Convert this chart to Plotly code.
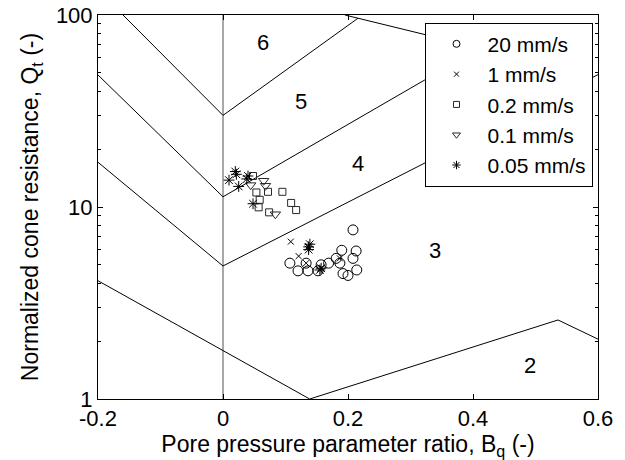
import math
import plotly.graph_objects as go

# ---- data ----
# Classification chart boundaries (Bq, Qt)
vert_x = [0.0, 0.0]
vert_q = [1, 100]
lineA_x = [-0.16, 0.0, 0.216]
lineA_q = [100, 30.0, 96.2]
lineTop_x = [0.195, 0.411]
lineTop_q = [100, 67.3]
lineB_x = [-0.2, 0.0, 0.411]
lineB_q = [48.7, 11.3, 67.3]
lineC_x = [-0.2, 0.0, 0.6]
lineC_q = [17.1, 4.93, 48.9]
lineD_x = [-0.2, 0.1387, 0.536, 0.6]
lineD_q = [4.13, 1.0, 2.58, 2.05]

zone_labels = ["6", "5", "4", "3", "2"]
zone_x = [0.0635, 0.1254, 0.216, 0.339, 0.491]
zone_q = [72.3, 35.3, 16.9, 5.97, 1.50]

series_names = ["20 mm/s", "1 mm/s", "0.2 mm/s", "0.1 mm/s", "0.05 mm/s"]

s20_x = [0.208, 0.107, 0.120, 0.136, 0.133, 0.152, 0.157, 0.169, 0.181, 0.190,
         0.213, 0.208, 0.187, 0.192, 0.200, 0.214]
s20_q = [7.6, 5.1, 4.65, 4.65, 5.1, 4.65, 5.0, 5.1, 5.4, 5.95,
         5.9, 5.4, 5.1, 4.5, 4.4, 4.7]
s1_x = [0.1085, 0.121, 0.133, 0.136, 0.157, 0.187]
s1_q = [6.6, 5.55, 5.1, 6.2, 4.8, 5.4]
s02_x = [0.048, 0.0534, 0.072, 0.095, 0.0587, 0.057, 0.0738, 0.109, 0.117]
s02_q = [14.5, 11.9, 12.0, 12.0, 10.9, 9.96, 9.38, 10.5, 9.64]
s01_x = [0.0443, 0.065, 0.068, 0.0838]
s01_q = [13.0, 13.7, 12.9, 9.17]
s005_x = [0.0197, 0.0214, 0.0096, 0.0251, 0.040, 0.038, 0.048, 0.137, 0.139, 0.137, 0.157, 0.155]
s005_q = [15.3, 14.8, 13.8, 12.8, 14.5, 14.0, 10.4, 6.2, 6.4, 6.0, 4.8, 4.7]

x_ticks = [-0.2, 0, 0.2, 0.4, 0.6]
x_ticktext = ["-0.2", "0", "0.2", "0.4", "0.6"]
y_ticks = [1, 10, 100]
y_ticktext = ["1", "10", "100"]
y_minor = [2, 3, 4, 5, 6, 7, 8, 9, 20, 30, 40, 50, 60, 70, 80, 90]

FONT = "Liberation Sans, Arial, Helvetica, sans-serif"
FS_TICK = 22
FS_TITLE = 23
FS_LEG = 21
FS_ZONE = 22

fig = go.Figure()

line_style = dict(color="black", width=1)
fig.add_trace(go.Scatter(x=vert_x, y=vert_q, mode="lines",
                         line=dict(color="rgb(110,110,110)", width=1.2),
                         showlegend=False, hoverinfo="skip"))
for lx, lq in [(lineA_x, lineA_q), (lineTop_x, lineTop_q), (lineB_x, lineB_q),
               (lineC_x, lineC_q), (lineD_x, lineD_q)]:
    fig.add_trace(go.Scatter(x=lx, y=lq, mode="lines", line=line_style,
                             showlegend=False, hoverinfo="skip"))

symbols = ["circle-open", "x-thin-open", "square-open", "triangle-down-open", "asterisk-open"]
sizes = [10, 6, 7, 9, 9]
legend_sizes = [7, 5, 6, 7, 7]
colors = ["black", "black", "rgb(40,40,40)", "rgb(40,40,40)", "black"]
xs = [s20_x, s1_x, s02_x, s01_x, s005_x]
qs = [s20_q, s1_q, s02_q, s01_q, s005_q]

for i in range(5):
    fig.add_trace(go.Scatter(
        x=xs[i], y=qs[i], mode="markers", name=series_names[i],
        marker=dict(symbol=symbols[i], size=sizes[i], color=colors[i],
                    line=dict(color=colors[i], width=1)),
        showlegend=False))
for i in range(5):
    fig.add_trace(go.Scatter(
        x=[None], y=[None], mode="markers", name=series_names[i],
        legendgroup=f"g{i}",
        marker=dict(symbol=symbols[i], size=legend_sizes[i], color=colors[i],
                    line=dict(color=colors[i], width=1)),
        showlegend=True))

for t, zx, zq in zip(zone_labels, zone_x, zone_q):
    fig.add_annotation(x=zx, y=math.log10(zq), xref="x", yref="y", text=t,
                       showarrow=False,
                       font=dict(family=FONT, size=FS_ZONE, color="black"))

fig.update_layout(
    width=625, height=460,
    margin=dict(l=98, r=27, t=15, b=61),
    paper_bgcolor="white", plot_bgcolor="white",
    font=dict(family=FONT, size=FS_TICK, color="black"),
    showlegend=True,
    legend=dict(x=0.989, y=0.98, xanchor="right", yanchor="top",
                bgcolor="white", bordercolor="black", borderwidth=1,
                font=dict(family=FONT, size=FS_LEG, color="black"),
                tracegroupgap=0, itemwidth=52),
)
fig.update_xaxes(range=[-0.2, 0.6], tickvals=x_ticks, ticktext=x_ticktext,
                 ticks="inside", ticklen=5, tickcolor="black",
                 showline=True, linecolor="black", linewidth=1, mirror="ticks",
                 showgrid=False, zeroline=False, automargin=False,
                 tickfont=dict(family=FONT, size=FS_TICK),
                 title=dict(text="Pore pressure parameter ratio, B<sub>q</sub> (-)",
                            font=dict(family=FONT, size=FS_TITLE), standoff=2))
fig.update_yaxes(type="log", range=[0, 2], tickvals=y_ticks, ticktext=y_ticktext,
                 ticks="inside", ticklen=5, tickcolor="black",
                 showline=True, linecolor="black", linewidth=1, mirror="ticks",
                 showgrid=False, zeroline=False, automargin=False,
                 tickfont=dict(family=FONT, size=FS_TICK),
                 minor=dict(tickvals=y_minor, ticks="inside", ticklen=3,
                            tickcolor="black", showgrid=False),
                 title=dict(text="Normalized cone resistance, Q<sub>t</sub> (-)",
                            font=dict(family=FONT, size=FS_TITLE), standoff=10))

fig.write_html("out.html")
